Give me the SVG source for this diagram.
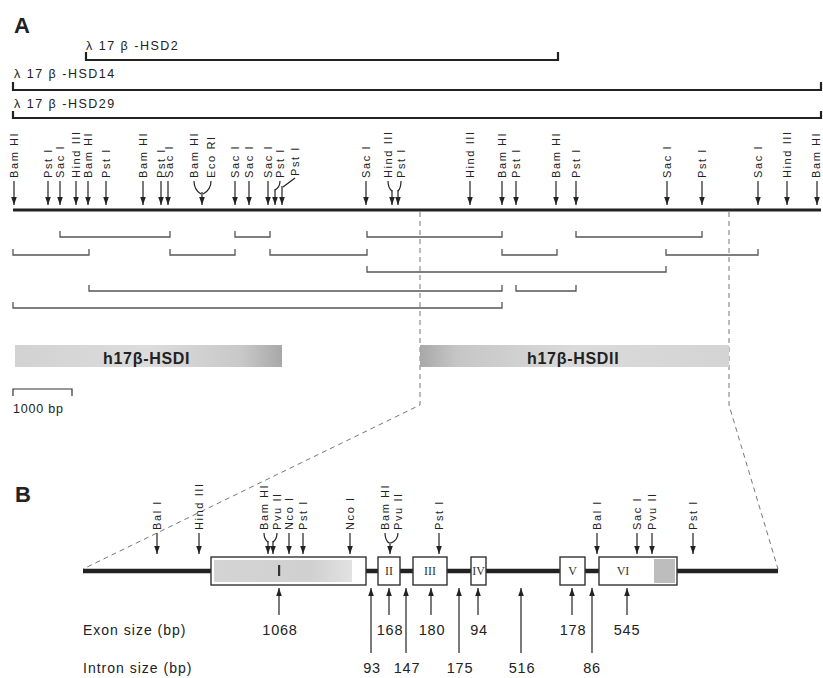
<svg xmlns="http://www.w3.org/2000/svg" width="823" height="678" viewBox="0 0 823 678">
<style>
text{font-family:"Liberation Sans",Arial,sans-serif;fill:#222}
.big{font-size:22px;font-weight:bold}
.clone{font-size:12.5px;letter-spacing:1.5px}
.site{font-size:11px;letter-spacing:1.6px}
.shaft{stroke:#222;stroke-width:1.2;fill:none}
.arr{stroke:#222;stroke-width:1.2;marker-end:url(#ah)}
.cl{stroke:#222;stroke-width:2.2;fill:none}
.frag{stroke:#555;stroke-width:1.3;fill:none}
.dash{stroke:#777;stroke-width:1;stroke-dasharray:5 4;fill:none}
.gene{font-size:16px;font-weight:bold;letter-spacing:0.7px}
.exon{fill:#fff;stroke:#333;stroke-width:1.4}
.roman{font-family:"Liberation Serif","Times New Roman",serif;font-size:12px;text-anchor:middle;fill:#333}
.num{font-size:14.5px;letter-spacing:0.8px;text-anchor:middle}
.row{font-size:14px;letter-spacing:1px}
</style>
<defs>
<marker id="ah" markerUnits="userSpaceOnUse" markerWidth="9" markerHeight="7" refX="8" refY="2.8" orient="auto"><path d="M0,0 L8,2.8 L0,5.6z" fill="#222"/></marker>
<linearGradient id="g1" x1="0" x2="1" y1="0" y2="0"><stop offset="0" stop-color="#d2d2d2"/><stop offset="0.5" stop-color="#dcdcdc"/><stop offset="0.85" stop-color="#c8c8c8"/><stop offset="1" stop-color="#a8a8a8"/></linearGradient>
<linearGradient id="g2" x1="0" x2="1" y1="0" y2="0"><stop offset="0" stop-color="#a8a8a8"/><stop offset="0.12" stop-color="#c6c6c6"/><stop offset="0.5" stop-color="#dadada"/><stop offset="1" stop-color="#d4d4d4"/></linearGradient>
<linearGradient id="g3" x1="0" x2="1" y1="0" y2="0"><stop offset="0" stop-color="#d4d4d4"/><stop offset="0.7" stop-color="#d0d0d0"/><stop offset="1" stop-color="#e2e2e2"/></linearGradient>
</defs>
<rect width="823" height="678" fill="#fff"/>

<text class="big" x="14" y="33">A</text>
<text class="big" x="15" y="502">B</text>

<g id="clones">
<text class="clone" x="86" y="50">λ 17 β -HSD2</text>
<path class="cl" d="M86,52 V60 H558 V52"/>
<text class="clone" x="14" y="78">λ 17 β -HSD14</text>
<path class="cl" d="M13,82 V90 H821 V82"/>
<text class="clone" x="14" y="108">λ 17 β -HSD29</text>
<path class="cl" d="M13,111 V118 H821 V111"/>
</g>

<g id="mapA">
<line x1="13" y1="210" x2="821" y2="210" stroke="#222" stroke-width="3"/>
</g>

<g id="sitesA">
<text class="site" transform="translate(18,178) rotate(-90)">Bam HI</text>
<text class="site" transform="translate(52,178) rotate(-90)">Pst I</text>
<text class="site" transform="translate(64,178) rotate(-90)">Sac I</text>
<text class="site" transform="translate(80,178) rotate(-90)">Hind III</text>
<text class="site" transform="translate(92,178) rotate(-90)">Bam HI</text>
<text class="site" transform="translate(110,178) rotate(-90)">Pst I</text>
<text class="site" transform="translate(147,178) rotate(-90)">Bam HI</text>
<text class="site" transform="translate(164.5,178) rotate(-90)">Pst I</text>
<text class="site" transform="translate(172.5,178) rotate(-90)">Sac I</text>
<text class="site" transform="translate(198,178) rotate(-90)">Bam HI</text>
<text class="site" transform="translate(215,178) rotate(-90)">Eco RI</text>
<text class="site" transform="translate(239,178) rotate(-90)">Sac I</text>
<text class="site" transform="translate(253,178) rotate(-90)">Sac I</text>
<text class="site" transform="translate(272,178) rotate(-90)">Sac I</text>
<text class="site" transform="translate(284,178) rotate(-90)">Pst I</text>
<text class="site" transform="translate(299,176) rotate(-90)">Pst I</text>
<text class="site" transform="translate(370,178) rotate(-90)">Sac I</text>
<text class="site" transform="translate(392,178) rotate(-90)">Hind III</text>
<text class="site" transform="translate(405,178) rotate(-90)">Pst I</text>
<text class="site" transform="translate(474,178) rotate(-90)">Hind III</text>
<text class="site" transform="translate(506,178) rotate(-90)">Bam HI</text>
<text class="site" transform="translate(520,178) rotate(-90)">Pst I</text>
<text class="site" transform="translate(560,178) rotate(-90)">Bam HI</text>
<text class="site" transform="translate(580,178) rotate(-90)">Pst I</text>
<text class="site" transform="translate(671,178) rotate(-90)">Sac I</text>
<text class="site" transform="translate(706,178) rotate(-90)">Pst I</text>
<text class="site" transform="translate(762,178) rotate(-90)">Sac I</text>
<text class="site" transform="translate(791,178) rotate(-90)">Hind III</text>
<text class="site" transform="translate(820,178) rotate(-90)">Bam HI</text>
</g>

<g id="connectors">
<g id="arrowsA">
<line class="arr" x1="14" y1="181" x2="14" y2="205"/>
<line class="arr" x1="48" y1="181" x2="48" y2="205"/>
<line class="arr" x1="60" y1="181" x2="60" y2="205"/>
<line class="arr" x1="76" y1="181" x2="76" y2="205"/>
<line class="arr" x1="88" y1="181" x2="88" y2="205"/>
<line class="arr" x1="106" y1="181" x2="106" y2="205"/>
<line class="arr" x1="143" y1="181" x2="143" y2="205"/>
<line class="arr" x1="161" y1="181" x2="161" y2="205"/>
<line class="arr" x1="168" y1="181" x2="168" y2="205"/>
<path class="shaft" d="M194,181 Q194,190 201,194 M211,181 Q211,190 203,194"/>
<line class="arr" x1="202" y1="192" x2="202" y2="205" stroke-width="2"/>
<line class="arr" x1="235" y1="181" x2="235" y2="205"/>
<line class="arr" x1="249" y1="181" x2="249" y2="205"/>
<line class="arr" x1="268" y1="181" x2="268" y2="205"/>
<path class="shaft" d="M280,181 Q280,187 275,190 M295,178 L283,187"/>
<line class="arr" x1="275" y1="189" x2="275" y2="205"/>
<line class="arr" x1="282" y1="186" x2="282" y2="205"/>
<line class="arr" x1="366" y1="181" x2="366" y2="205"/>
<path class="shaft" d="M388,181 Q388,188 392,191 M401,181 Q401,188 398,191"/>
<line class="arr" x1="392" y1="190" x2="392" y2="205"/>
<line class="arr" x1="398" y1="190" x2="398" y2="205"/>
<line class="arr" x1="470" y1="181" x2="470" y2="205"/>
<line class="arr" x1="502" y1="181" x2="502" y2="205"/>
<line class="arr" x1="516" y1="181" x2="516" y2="205"/>
<line class="arr" x1="556" y1="181" x2="556" y2="205"/>
<line class="arr" x1="576" y1="181" x2="576" y2="205"/>
<line class="arr" x1="667" y1="181" x2="667" y2="205"/>
<line class="arr" x1="702" y1="181" x2="702" y2="205"/>
<line class="arr" x1="758" y1="181" x2="758" y2="205"/>
<line class="arr" x1="787" y1="181" x2="787" y2="205"/>
<line class="arr" x1="817" y1="181" x2="817" y2="205"/>
</g>
<g id="zoomLines">
<path class="dash" d="M420,212 V405 L83,569"/>
<path class="dash" d="M729,212 V405 L778,569"/>
</g>
</g>

<g id="fragments">
<path class="frag" d="M60,231 V237 H170 V231 M235,231 V237 H270 V231 M367,231 V237 H502 V231 M576,231 V237 H702 V231"/>
<path class="frag" d="M13,249 V255 H89 V249 M170,249 V255 H235 V249 M270,249 V255 H367 V249 M502,249 V255 H557 V249 M666,249 V255 H758 V249"/>
<path class="frag" d="M367,266 V272 H666 V266"/>
<path class="frag" d="M89,285 V291 H502 V285 M516,285 V291 H576 V285"/>
<path class="frag" d="M13,302 V308 H502 V302"/>
</g>

<g id="geneI">
<rect x="15" y="345" width="267" height="22" fill="url(#g1)"/>
<text class="gene" x="103" y="364">h17β-HSDI</text>
</g>
<g id="geneII">
<rect x="420" y="345" width="309" height="22" fill="url(#g2)"/>
<text class="gene" x="527" y="364">h17β-HSDII</text>
</g>

<g id="scale">
<path d="M13,396 V389 H72 V396" stroke="#333" stroke-width="1.2" fill="none"/>
<text x="13" y="413" font-size="12.5" letter-spacing="0.8">1000 bp</text>
</g>

<g id="mapB">
<line x1="83" y1="571" x2="778" y2="571" stroke="#222" stroke-width="4.5"/>
</g>

<g id="exon1">
<rect class="exon" x="211" y="557" width="155" height="28"/>
<rect x="214" y="560" width="138" height="22" fill="url(#g3)"/>
<rect x="278" y="565" width="2.2" height="11" fill="#333"/>
</g>
<g id="exon2"><rect class="exon" x="378" y="557" width="22" height="28"/><text class="roman" x="389" y="575">II</text></g>
<g id="exon3"><rect class="exon" x="413" y="557" width="34" height="28"/><text class="roman" x="430" y="575">III</text></g>
<g id="exon4"><rect class="exon" x="471" y="557" width="15" height="28"/><text class="roman" x="478.5" y="575">IV</text></g>
<g id="exon5"><rect class="exon" x="560" y="557" width="25" height="28"/><text class="roman" x="572.5" y="575">V</text></g>
<g id="exon6">
<rect class="exon" x="599" y="557" width="78" height="28"/>
<rect x="654" y="559" width="21" height="24" fill="#bdbdbd"/>
<text class="roman" x="623" y="575">VI</text>
</g>

<g id="sitesB">
<text class="site" transform="translate(161,530) rotate(-90)">Bal I</text>
<text class="site" transform="translate(203,530) rotate(-90)">Hind III</text>
<text class="site" transform="translate(268,530) rotate(-90)">Bam HI</text>
<text class="site" transform="translate(281,530) rotate(-90)">Pvu II</text>
<text class="site" transform="translate(293,530) rotate(-90)">Nco I</text>
<text class="site" transform="translate(307,530) rotate(-90)">Pst I</text>
<text class="site" transform="translate(354,530) rotate(-90)">Nco I</text>
<text class="site" transform="translate(389,530) rotate(-90)">Bam HI</text>
<text class="site" transform="translate(402,530) rotate(-90)">Pvu II</text>
<text class="site" transform="translate(443,530) rotate(-90)">Pst I</text>
<text class="site" transform="translate(601,530) rotate(-90)">Bal I</text>
<text class="site" transform="translate(641,530) rotate(-90)">Sac I</text>
<text class="site" transform="translate(656,530) rotate(-90)">Pvu II</text>
<text class="site" transform="translate(697,530) rotate(-90)">Pst I</text>
</g>

<g id="arrowsB">
<line class="arr" x1="157" y1="533" x2="157" y2="554"/>
<line class="arr" x1="199" y1="533" x2="199" y2="554"/>
<path class="shaft" d="M264,533 Q264,539 268,542 M277,533 Q277,539 273,542"/>
<line class="arr" x1="268" y1="541" x2="268" y2="554"/>
<line class="arr" x1="273" y1="541" x2="273" y2="554"/>
<line class="arr" x1="289" y1="533" x2="289" y2="554"/>
<line class="arr" x1="303" y1="533" x2="303" y2="554"/>
<line class="arr" x1="350" y1="533" x2="350" y2="554"/>
<path class="shaft" d="M385,533 Q385,540 389,543 M398,533 Q398,540 391,543"/>
<line class="arr" x1="390" y1="542" x2="390" y2="554" stroke-width="2"/>
<line class="arr" x1="439" y1="533" x2="439" y2="554"/>
<line class="arr" x1="597" y1="533" x2="597" y2="554"/>
<line class="arr" x1="637" y1="533" x2="637" y2="554"/>
<line class="arr" x1="652" y1="533" x2="652" y2="554"/>
<line class="arr" x1="693" y1="533" x2="693" y2="554"/>
</g>

<g id="sizeArrows">
<line class="arr" x1="279" y1="615" x2="279" y2="588"/>
<line class="arr" x1="389" y1="615" x2="389" y2="588"/>
<line class="arr" x1="431" y1="615" x2="431" y2="588"/>
<line class="arr" x1="478" y1="615" x2="478" y2="588"/>
<line class="arr" x1="572" y1="615" x2="572" y2="588"/>
<line class="arr" x1="627" y1="615" x2="627" y2="588"/>
<line class="arr" x1="371" y1="653" x2="371" y2="588"/>
<line class="arr" x1="406" y1="653" x2="406" y2="588"/>
<line class="arr" x1="459" y1="653" x2="459" y2="588"/>
<line class="arr" x1="521" y1="653" x2="521" y2="588"/>
<line class="arr" x1="592" y1="653" x2="592" y2="588"/>
</g>

<g id="sizes">
<text class="row" x="83" y="635">Exon size (bp)</text>
<text class="num" x="280" y="635">1068</text>
<text class="num" x="390" y="635">168</text>
<text class="num" x="432" y="635">180</text>
<text class="num" x="479" y="635">94</text>
<text class="num" x="573" y="635">178</text>
<text class="num" x="627" y="635">545</text>
<text class="row" x="83" y="673">Intron size (bp)</text>
<text class="num" x="372" y="673">93</text>
<text class="num" x="407" y="673">147</text>
<text class="num" x="460" y="673">175</text>
<text class="num" x="522" y="673">516</text>
<text class="num" x="592" y="673">86</text>
</g>
</svg>
